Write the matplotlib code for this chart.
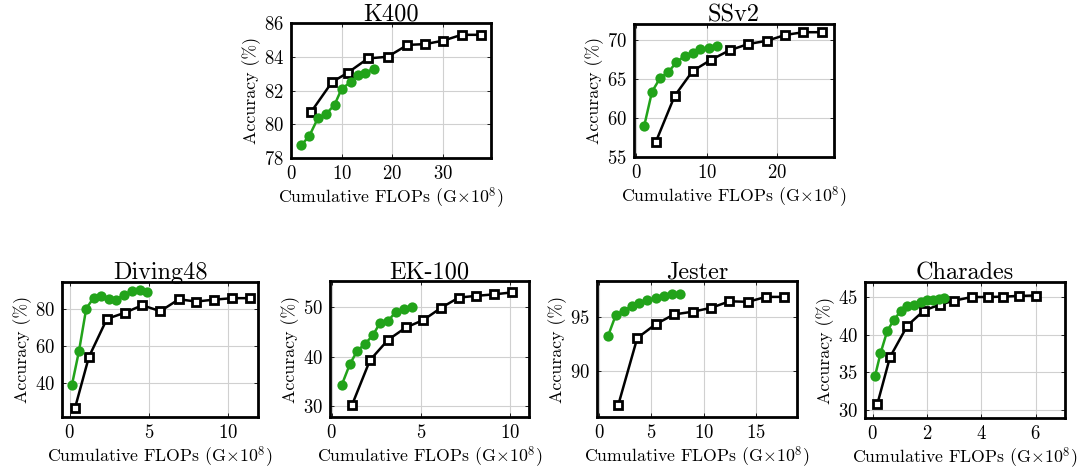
import matplotlib
matplotlib.use('Agg')
import matplotlib.pyplot as plt

# ── SETTINGS ──────────────────────────────────────────────────────────────────
plt.rcParams['font.family'] = ['cmr10', 'DejaVu Serif']
plt.rcParams['mathtext.fontset'] = 'cm'
plt.rcParams['axes.formatter.use_mathtext'] = True

GREEN = '#22a31a'
XLABEL = r'Cumulative FLOPs (G$\times10^8$)'
YLABEL = 'Accuracy (%)'

# ── DATA ──────────────────────────────────────────────────────────────────────
titles = ['K400', 'SSv2', 'Diving48', 'EK-100', 'Jester', 'Charades']

k400_black_x = [3.9, 8.1, 11.2, 15.2, 19.1, 23.0, 26.5, 30.0, 33.7, 37.5]
k400_black_y = [80.7, 82.5, 83.05, 83.9, 84.0, 84.7, 84.75, 84.95, 85.3, 85.3]
k400_green_x = [2.0, 3.6, 5.3, 6.9, 8.6, 10.0, 11.8, 13.3, 14.7, 16.4]
k400_green_y = [78.75, 79.3, 80.35, 80.6, 81.15, 82.1, 82.5, 82.9, 83.05, 83.3]

ssv2_black_x = [2.8, 5.45, 8.0, 10.65, 13.25, 15.9, 18.5, 21.1, 23.65, 26.3]
ssv2_black_y = [56.95, 62.8, 66.0, 67.45, 68.65, 69.45, 69.85, 70.6, 70.95, 70.95]
ssv2_green_x = [1.15, 2.25, 3.4, 4.55, 5.7, 6.85, 8.0, 9.1, 10.3, 11.45]
ssv2_green_y = [59.0, 63.35, 65.1, 65.85, 67.1, 67.9, 68.3, 68.75, 68.95, 69.15]

div_black_x = [0.34, 1.22, 2.36, 3.47, 4.59, 5.73, 6.9, 8.0, 9.12, 10.25, 11.37]
div_black_y = [26.5, 54.0, 74.5, 77.7, 81.8, 78.6, 85.0, 83.8, 84.8, 85.6, 85.6]
div_green_x = [0.15, 0.59, 1.05, 1.51, 2.0, 2.46, 2.95, 3.43, 3.94, 4.42, 4.88]
div_green_y = [39.1, 57.0, 80.0, 85.7, 86.6, 85.4, 84.8, 87.5, 89.3, 89.9, 89.0]

ek_black_x = [1.14, 2.14, 3.15, 4.15, 5.12, 6.13, 7.11, 8.1, 9.09, 10.1]
ek_black_y = [30.3, 39.3, 43.4, 45.9, 47.4, 49.9, 51.95, 52.3, 52.6, 53.0]
ek_green_x = [0.56, 1.02, 1.43, 1.88, 2.29, 2.7, 3.17, 3.59, 4.04, 4.49]
ek_green_y = [34.3, 38.55, 41.2, 42.65, 44.3, 46.8, 47.3, 49.1, 49.6, 50.1]

jes_black_x = [1.82, 3.65, 5.4, 7.16, 8.95, 10.71, 12.47, 14.23, 15.96, 17.72]
jes_black_y = [86.9, 93.05, 94.3, 95.2, 95.45, 95.8, 96.4, 96.35, 96.8, 96.8]
jes_green_x = [0.86, 1.6, 2.37, 3.1, 3.84, 4.6, 5.4, 6.2, 7.0, 7.74]
jes_green_y = [93.25, 95.15, 95.55, 95.95, 96.2, 96.5, 96.7, 96.9, 97.05, 97.1]

cha_black_x = [0.17, 0.64, 1.28, 1.89, 2.48, 2.99, 3.64, 4.23, 4.79, 5.39, 6.02]
cha_black_y = [30.7, 37.0, 41.2, 43.2, 44.0, 44.5, 45.0, 45.0, 45.05, 45.15, 45.2]
cha_green_x = [0.09, 0.29, 0.54, 0.79, 1.03, 1.28, 1.52, 1.77, 2.01, 2.23, 2.44, 2.63]
cha_green_y = [34.5, 37.5, 40.5, 42.0, 43.1, 43.75, 44.0, 44.3, 44.55, 44.65, 44.8, 44.9]

xticks = [[0, 10, 20, 30], [0, 10, 20], [0, 5, 10], [0, 5, 10], [0, 5, 10, 15], [0, 2, 4, 6]]
yticks = [[78, 80, 82, 84, 86], [55, 60, 65, 70], [40, 60, 80], [30, 40, 50], [90, 95],
          [30, 35, 40, 45]]
xlims = [(0, 39.5), (-0.3, 28.0), (-0.48, 11.9), (-0.1, 11.04), (-0.2, 18.93), (-0.28, 7.08)]
ylims = [(78, 86), (55, 72), (21.7, 94.3), (27.8, 55.3), (85.85, 98.25), (28.9, 47.0)]

blacks = [(k400_black_x, k400_black_y), (ssv2_black_x, ssv2_black_y),
          (div_black_x, div_black_y), (ek_black_x, ek_black_y),
          (jes_black_x, jes_black_y), (cha_black_x, cha_black_y)]
greens = [(k400_green_x, k400_green_y), (ssv2_green_x, ssv2_green_y),
          (div_green_x, div_green_y), (ek_green_x, ek_green_y),
          (jes_green_x, jes_green_y), (cha_green_x, cha_green_y)]

# axes boxes in pixels: left, right, top, bottom
boxes = [(291, 491, 23, 158), (634, 834, 24, 157),
         (62, 258, 282, 417), (330, 529, 281, 417),
         (597, 797, 281, 417), (865, 1065, 282, 418)]

# ── PLOT ──────────────────────────────────────────────────────────────────────
W, H = 1081, 470
fig = plt.figure(figsize=(W / 100, H / 100), dpi=100)

for i in range(6):
    l, r, t, b = boxes[i]
    ax = fig.add_axes([l / W, 1 - b / H, (r - l) / W, (b - t) / H])

    bx, by = blacks[i]
    gx, gy = greens[i]
    ax.plot(bx, by, color='black', linewidth=1.8, marker='s', markersize=5.4,
            markerfacecolor='white', markeredgecolor='black', markeredgewidth=2,
            zorder=3)
    ax.plot(gx, gy, color=GREEN, linewidth=1.8, marker='o', markersize=7.4,
            markeredgewidth=0, zorder=4)

    ax.set_xlim(*xlims[i])
    ax.set_ylim(*ylims[i])
    ax.set_xticks(xticks[i])
    ax.set_yticks(yticks[i])
    ax.grid(True, color='#d0d0d0', linewidth=0.8)
    ax.set_axisbelow(True)
    ax.tick_params(direction='in', length=3, width=0.6, labelsize=13.5,
                   top=True, right=True, pad=5)
    for s in ax.spines.values():
        s.set_linewidth(2)

    ax.set_title(titles[i], fontsize=17.5, pad=2)
    ax.set_xlabel(XLABEL, fontsize=12.8, labelpad=2)
    ax.set_ylabel(YLABEL, fontsize=12.8, labelpad=2)

fig.savefig('out.png', dpi=100)
